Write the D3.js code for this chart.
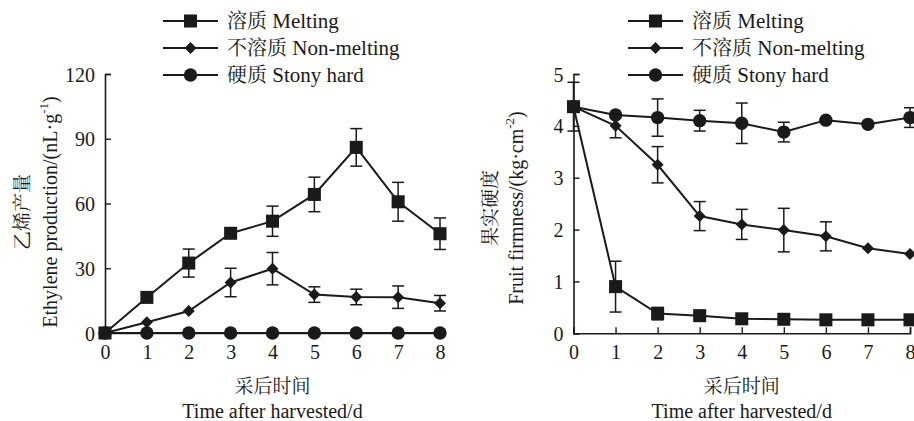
<!DOCTYPE html>
<html><head><meta charset="utf-8">
<script src="https://cdn.jsdelivr.net/npm/d3@7"></script>
<style>
body{margin:0;background:#fff;}
svg{display:block;}
</style></head>
<body>
<svg id="c" width="914" height="421"></svg>
<script>
const days = [0,1,2,3,4,5,6,7,8];
const seriesNames = ["溶质 Melting","不溶质 Non-melting","硬质 Stony hard"];
const cjkNames = ["溶质","不溶质","硬质"];
const enNames = ["Melting","Non-melting","Stony hard"];

// Ethylene production (nL·g-1)
const ethMelting    = [0,16.5,32.4,46.2,51.8,64.2,86.0,60.8,46.0];
const ethMeltingErr = [0,0,6.5,0,7.0,8.0,8.7,9.0,7.3];
const ethNon        = [0,5.0,10.2,23.4,29.8,17.8,16.7,16.6,13.8];
const ethNonErr     = [0,0,0,6.6,7.5,3.6,3.6,5.2,3.6];
const ethStony      = [0,0,0,0,0,0,0,0,0];
const ethStonyErr   = [0,0,0,0,0,0,0,0,0];
const ethTicks = [0,30,60,90,120];

// Fruit firmness (kg·cm-2)
const firmMelting    = [4.37,0.90,0.38,0.34,0.28,0.27,0.26,0.26,0.26];
const firmMeltingErr = [0.47,0.49,0.12,0,0,0,0,0,0];
const firmNon        = [4.37,4.00,3.25,2.26,2.10,1.99,1.87,1.64,1.53];
const firmNonErr     = [0,0.23,0.35,0.28,0.29,0.42,0.28,0,0];
const firmStony      = [4.37,4.21,4.16,4.10,4.05,3.88,4.11,4.03,4.16];
const firmStonyErr   = [0,0,0.36,0.20,0.39,0.19,0,0,0.19];
const firmTicks = [0,1,2,3,4,5];

const SERIF = '"Liberation Serif", "DejaVu Serif", serif';
const CJK = '"Noto Serif CJK SC", "Noto Sans CJK SC", sans-serif';
const svg = d3.select("#c");
const ink = "#1a1a1a";

function symbolFor(i){ return [d3.symbolSquare, d3.symbolSquare, d3.symbolCircle][i]; }
function sizeFor(i){ return [170, 72, 140][i]; }
function rotFor(i){ return i===1 ? " rotate(45)" : ""; }

function panel(opt){
  const x = d3.scaleLinear().domain([0,8]).range([opt.x0, opt.x1]);
  const y = d3.scaleLinear().domain([0, opt.ymax]).range([opt.y0, opt.y1]);
  const g = svg.append("g");

  const ax = g.append("g").attr("transform",`translate(0,${opt.y0})`)
    .call(d3.axisBottom(x).tickValues(days).tickSize(-6).tickPadding(12).tickFormat(d3.format("d")));
  const ay = g.append("g").attr("transform",`translate(${opt.x0},0)`)
    .call(d3.axisLeft(y).tickValues(opt.ticks).tickSize(-6).tickPadding(10).tickFormat(d3.format("d")));
  [ax,ay].forEach(a=>{
    a.attr("font-family", SERIF).attr("font-size", 20);
    a.selectAll("path").attr("stroke",ink).attr("stroke-width",1.6);
    a.selectAll("line").attr("stroke",ink).attr("stroke-width",1.4);
    a.selectAll("text").attr("fill",ink).style("font-family",SERIF).style("font-size","20px");
  });
  ay.selectAll("text").attr("dy","0.35em");
  ax.selectAll("text").attr("dy","0.7em");

  const order = [2,1,0];
  order.forEach(i=>{
    const vals = opt.vals[i], errs = opt.errs[i];
    const pts = days.map((d,k)=>({d, v:vals[k], e:errs[k]}));
    g.append("path").datum(pts)
      .attr("fill","none").attr("stroke",ink).attr("stroke-width",2)
      .attr("d", d3.line().x(p=>x(p.d)).y(p=>y(p.v)));
    const eb = g.append("g").attr("stroke",ink).attr("stroke-width",1.5);
    pts.filter(p=>p.e>0).forEach(p=>{
      const cx = x(p.d);
      eb.append("line").attr("x1",cx).attr("x2",cx).attr("y1",y(p.v+p.e)).attr("y2",y(p.v-p.e));
      eb.append("line").attr("x1",cx-6).attr("x2",cx+6).attr("y1",y(p.v+p.e)).attr("y2",y(p.v+p.e));
      eb.append("line").attr("x1",cx-6).attr("x2",cx+6).attr("y1",y(p.v-p.e)).attr("y2",y(p.v-p.e));
    });
    g.append("g").selectAll("path").data(pts).join("path")
      .attr("transform",p=>`translate(${x(p.d)},${y(p.v)})${rotFor(i)}`)
      .attr("d", d3.symbol().type(symbolFor(i)).size(sizeFor(i)))
      .attr("fill",ink);
  });

  // legend
  const lg = g.append("g");
  [0,1,2].forEach(i=>{
    const ly = opt.legY[i];
    lg.append("line").attr("x1",opt.legX).attr("x2",opt.legX+55).attr("y1",ly).attr("y2",ly)
      .attr("stroke",ink).attr("stroke-width",2);
    lg.append("path").attr("transform",`translate(${opt.legX+27.5},${ly})${rotFor(i)}`)
      .attr("d", d3.symbol().type(symbolFor(i)).size(sizeFor(i))).attr("fill",ink);
    const t = lg.append("text").attr("x",opt.legX+64).attr("y",ly).attr("dy","0.35em")
      .attr("fill",ink).style("font-family",SERIF).style("font-size","21px");
    t.append("tspan").style("font-family",CJK).style("font-size","20px").text(cjkNames[i]);
    t.append("tspan").style("font-family",SERIF).text(" " + enNames[i]);
  });

  // x title
  const cx = (opt.x0+opt.x1)/2;
  g.append("text").attr("x",cx).attr("y",386).attr("dy","0.35em").attr("fill",ink)
    .attr("text-anchor","middle").style("font-family",CJK).style("font-size","19px").text("采后时间");
  g.append("text").attr("x",cx).attr("y",411).attr("dy","0.35em").attr("fill",ink)
    .attr("text-anchor","middle").style("font-family",SERIF).style("font-size","20px").text("Time after harvested/d");

  // y titles
  const cyT = opt.titleCY;
  g.append("text")
    .attr("transform",`translate(${opt.cjkX},${cyT}) rotate(-90)`).attr("dy","0.35em").attr("fill",ink)
    .attr("text-anchor","middle").style("font-family",CJK).style("font-size","19px").text(opt.cjkTitle);
  const et = g.append("text")
    .attr("transform",`translate(${opt.enX},${cyT}) rotate(-90)`).attr("dy","0.35em").attr("fill",ink)
    .attr("text-anchor","middle").style("font-family",SERIF).style("font-size","20px");
  et.append("tspan").text(opt.enTitle);
  et.append("tspan").style("font-size","13px").attr("dy","-0.7em").text(opt.sup);
  et.append("tspan").attr("dy","0.45em").text(")");
}

panel({x0:105,x1:440,y0:333,y1:74,ymax:120,ticks:ethTicks,
  vals:[ethMelting,ethNon,ethStony], errs:[ethMeltingErr,ethNonErr,ethStonyErr],
  legX:163, legY:[21,48,75], titleCY:212, cjkX:22, enX:50,
  cjkTitle:"乙烯产量", enTitle:"Ethylene production/(nL·g", sup:"-1"});

panel({x0:573.5,x1:910,y0:333.3,y1:74,ymax:5,ticks:firmTicks,
  vals:[firmMelting,firmNon,firmStony], errs:[firmMeltingErr,firmNonErr,firmStonyErr],
  legX:628, legY:[21,48,75], titleCY:208, cjkX:490, enX:516,
  cjkTitle:"果实硬度", enTitle:"Fruit firmness/(kg·cm", sup:"-2"});
</script>
</body></html>
